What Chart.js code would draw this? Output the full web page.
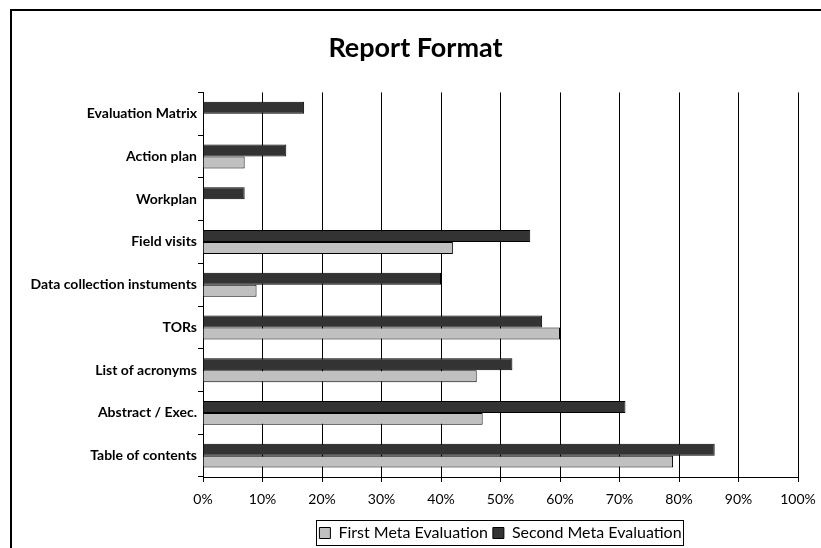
<!DOCTYPE html>
<html>
<head>
<meta charset="utf-8">
<script src="https://cdn.jsdelivr.net/npm/chart.js@4"></script>
<style>
  html, body { margin: 0; padding: 0; background: #fff; }
  #wrap { width: 821px; height: 548px; position: relative; }
</style>
</head>
<body>
<div id="wrap"><canvas id="reportChart" width="821" height="548"></canvas></div>
<script>
// categories, top to bottom
const categories = ['Evaluation Matrix', 'Action plan', 'Workplan', 'Field visits',
    'Data collection instuments', 'TORs', 'List of acronyms', 'Abstract / Exec.', 'Table of contents'];
const firstMeta = [0, 7, 0, 42, 9, 60, 46, 47, 79];
const secondMeta = [17, 14, 7, 55, 40, 57, 52, 71, 86];
const xTicks = [0, 10, 20, 30, 40, 50, 60, 70, 80, 90, 100];

const FONT = 'Lato, "DejaVu Sans", sans-serif';

// frame round the chart and a box round the legend
const framePlugin = {
    id: 'frame',
    afterLayout(chart) {
        // push the legend down a little
        chart.legend.top += 3;
        chart.legend.bottom += 3;
    },
    afterDraw(chart) {
        const ctx = chart.ctx;
        ctx.save();
        ctx.fillStyle = '#000';
        ctx.fillRect(10, 9, 811, 2);
        ctx.fillRect(10, 9, 2, 539);
        const boxes = chart.legend.legendHitBoxes;
        if (boxes && boxes.length) {
            let l = Infinity, r = -Infinity, t = Infinity, b = -Infinity;
            boxes.forEach(h => {
                l = Math.min(l, h.left); r = Math.max(r, h.left + h.width);
                t = Math.min(t, h.top); b = Math.max(b, h.top + h.height);
            });
            ctx.strokeStyle = '#000';
            ctx.lineWidth = 1;
            ctx.strokeRect(Math.round(l - 3) + 0.5, Math.round(t - 5) + 0.5,
                Math.round(r - l + 5), Math.round(b - t + 9));
        }
        ctx.restore();
    }
};

const ctx = document.getElementById('reportChart').getContext('2d');
const reportChart = new Chart(ctx, {
    type: 'bar',
    data: {
        labels: categories,
        datasets: [{
            label: 'Second Meta Evaluation',
            data: secondMeta,
            backgroundColor: '#333333',
            borderColor: '#000',
            borderWidth: 1,
            barPercentage: 1,
            categoryPercentage: 0.56
        }, {
            label: 'First Meta Evaluation',
            data: firstMeta,
            backgroundColor: '#c0c0c0',
            borderColor: '#000',
            borderWidth: 1,
            barPercentage: 1,
            categoryPercentage: 0.56
        }]
    },
    options: {
        indexAxis: 'y',
        responsive: false,
        animation: false,
        layout: { padding: { left: 10, right: 0, top: 0, bottom: 0 } },
        scales: {
            x: {
                min: 0,
                max: 100,
                afterBuildTicks: s => { s.ticks = xTicks.map(v => ({ value: v })); },
                afterFit: s => { s.height = 40; s.paddingLeft = 0; s.paddingRight = 0; },
                grid: { color: '#000', lineWidth: 1, tickLength: 5 },
                border: { color: '#000', width: 1 },
                ticks: {
                    callback: v => v + '%',
                    color: '#000',
                    font: { family: FONT, size: 14 },
                    padding: 9
                }
            },
            y: {
                afterFit: s => { s.width = 193; },
                grid: { drawOnChartArea: false, color: '#000', tickLength: 5, offset: true },
                border: { color: '#000', width: 1 },
                ticks: {
                    color: '#000',
                    font: { family: FONT, size: 14, weight: 'bold' },
                    padding: 1
                }
            },
            // empty space on the right of the plot
            rightGap: {
                type: 'linear',
                position: 'right',
                afterFit: s => { s.width = 23; },
                grid: { display: false },
                border: { display: false },
                ticks: { display: false }
            }
        },
        plugins: {
            title: {
                display: true,
                text: 'Report Format',
                color: '#000',
                font: { family: FONT, size: 27, weight: 'bold' },
                padding: { top: 32, bottom: 28 }
            },
            legend: {
                position: 'bottom',
                fullSize: false,
                reverse: true,
                labels: {
                    color: '#000',
                    font: { family: FONT, size: 16 },
                    boxWidth: 11,
                    boxHeight: 11,
                    padding: 5,
                    useBorderRadius: false
                }
            },
            tooltip: { enabled: false }
        }
    },
    plugins: [framePlugin]
});
</script>
</body>
</html>
